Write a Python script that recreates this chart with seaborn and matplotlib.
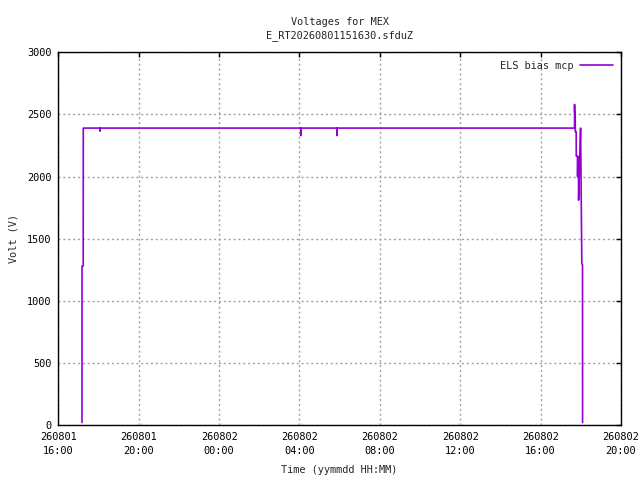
import matplotlib
matplotlib.use("Agg")
import matplotlib.pyplot as plt
import matplotlib.dates as mdates
import seaborn as sns
import pandas as pd

# Data: minutes after 2026-08-01 16:00, voltage (V)
minutes = [70.7, 70.9, 74.4, 74.6, 124.8, 125.0, 125.2, 723.8, 724.0, 724.2,
           831.8, 832.0, 832.2, 1541.2, 1541.4, 1541.6, 1543.3, 1543.5, 1546.2,
           1546.4, 1550.2, 1550.4, 1551.0, 1551.5, 1552.2, 1552.4, 1553.2,
           1553.4, 1559.2, 1559.4, 1563.0, 1565.1, 1565.3]
volts = [20, 1280, 1280, 2390, 2390, 2365, 2390, 2390, 2330, 2390,
         2390, 2330, 2390, 2390, 2580, 2520, 2520, 2360, 2360,
         2165, 2165, 2000, 2160, 2000, 2160, 2000, 2000,
         1810, 2390, 2390, 1298, 1290, 20]
series_name = "ELS bias mcp"

base = pd.Timestamp("2026-08-01 16:00")
df = pd.DataFrame({
    "time": [base + pd.Timedelta(minutes=m) for m in minutes],
    "volt": volts,
})

sns.set_style("white")
plt.rcParams["font.family"] = ["DejaVu Sans Mono", "DejaVu Sans"]
FS = 7.4
plt.rcParams["font.size"] = FS

fig = plt.figure(figsize=(6.4, 4.8), dpi=100)
ax = fig.add_axes([58.3 / 640, 55 / 480, (621 - 58.3) / 640, (425 - 52.3) / 480])

sns.lineplot(data=df, x="time", y="volt", ax=ax, color="#9400D3",
             linewidth=1.2, estimator=None, sort=False, label=series_name)

ax.set_xlim(base, base + pd.Timedelta(hours=28))
ax.set_ylim(0, 3000)
ax.set_yticks(range(0, 3001, 500))
ax.xaxis.set_major_locator(mdates.HourLocator(byhour=[0, 4, 8, 12, 16, 20]))
ax.xaxis.set_major_formatter(mdates.DateFormatter("%y%m%d\n%H:%M"))

ax.grid(True, color="#a0a0a0", linestyle=(0, (1.5, 2.0)), linewidth=1)
ax.tick_params(direction="in", length=3.5, width=1, top=True, right=True,
               labelsize=FS, colors="black", pad=5)
for lbl in ax.get_xticklabels():
    lbl.set_horizontalalignment("center")
    lbl.set_linespacing(1.45)
for s in ax.spines.values():
    s.set_color("black")
    s.set_linewidth(1)

ax.set_xlabel("Time (yymmdd HH:MM)", fontsize=FS, labelpad=7)
ax.set_ylabel("Volt (V)", fontsize=FS, labelpad=6)
ax.set_title("Voltages for MEX\nE_RT20260801151630.sfduZ", fontsize=FS,
             pad=10, linespacing=1.45)

leg = ax.legend(loc="upper right", frameon=False, markerfirst=False,
                handlelength=3.2, fontsize=FS, borderaxespad=0.4,
                handletextpad=0.6)

fig.savefig("out.png", dpi=100)
